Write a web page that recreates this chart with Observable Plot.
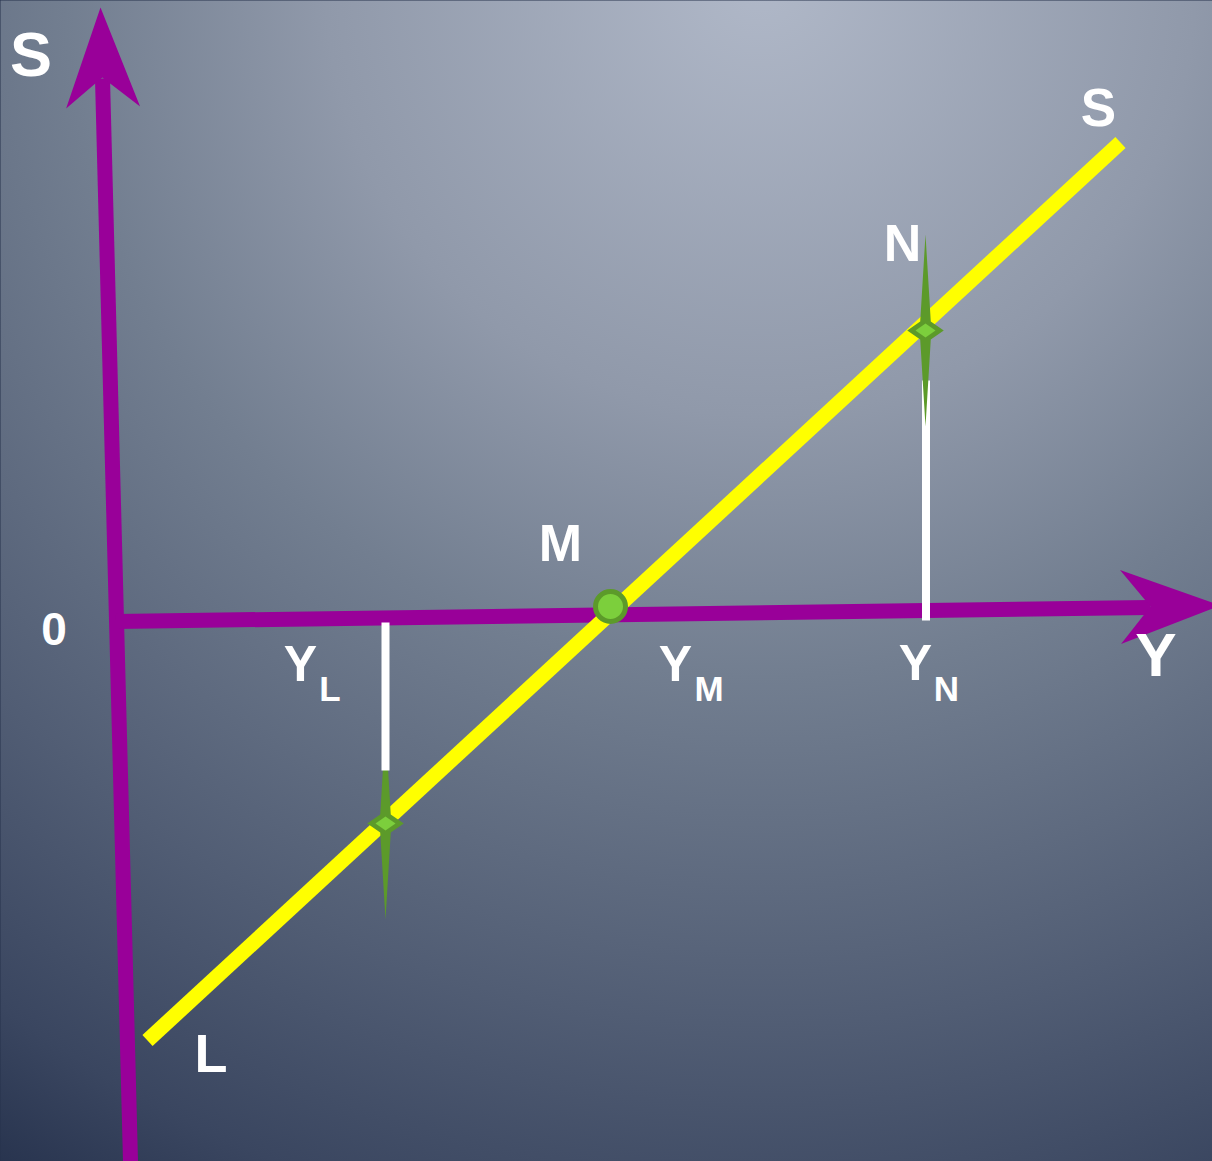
<!DOCTYPE html>
<html>
<head>
<meta charset="utf-8">
<script src="https://cdn.jsdelivr.net/npm/d3@7"></script>
<script src="https://cdn.jsdelivr.net/npm/@observablehq/plot@0.6"></script>
<style>
  html, body { margin: 0; padding: 0; background: #26324c; }
  #chart svg { display: block; }
</style>
</head>
<body>
<div id="chart"></div>
<script>
// ---------- DATA (Y = income on x, S = saving on y; origin at 0,0) ----------
const sAxis = [{x: 0.1, y: -6.7625}, {x: -0.25, y: 6.775}];
const yAxis = [{x: -0.0875, y: -0.0125}, {x: 12.85, y: 0.1625}];
const arrowTips = [
  {axis: "S", x: -0.275, y: 7.6625, angle: -1.5},
  {axis: "Y", x: 13.725, y: 0.1875, angle: 89.2}
];
const savingLine = [{x: 0.3125, y: -5.25}, {x: 12.475, y: 5.975}];
const equilibrium = [{name: "M", x: 6.1, y: 0.175}];
const sparklePoints = [
  {name: "N", x: 10.0375, y: 3.625},
  {name: "L", x: 3.2875, y: -2.5375}
];
const dropN = [{x: 10.04375, y: 3.0}, {x: 10.04375, y: 0.0}];
const dropL = [{x: 3.2875, y: -0.025}, {x: 3.2875, y: -1.875}];
const labels = [
  {text: "S", role: "axisS", x: -1.14375, y: 6.8125},
  {text: "Y", role: "axisY", x: 12.91875, y: -0.6875},
  {text: "0", role: "origin", x: -0.85625, y: -0.3},
  {text: "S", role: "curveS", x: 12.2, y: 6.1875},
  {text: "L", role: "curveL", x: 1.10625, y: -5.6375},
  {text: "N", role: "point", x: 9.75, y: 4.5},
  {text: "M", role: "point", x: 5.475, y: 0.75},
  {text: "Y", role: "income", x: 2.225, y: -0.75},
  {text: "Y", role: "income", x: 6.9125, y: -0.75},
  {text: "Y", role: "income", x: 9.9125, y: -0.7375},
  {text: "L", role: "sub", x: 2.59375, y: -1.0},
  {text: "M", role: "sub", x: 7.33125, y: -1.0},
  {text: "N", role: "sub", x: 10.3, y: -1.0}
];

// ---------- STYLE ----------
const W = 1212, H = 1161;
const X_DOMAIN = [-1.525, 13.625];
const Y_DOMAIN = [-6.7625, 7.75];
const PURPLE = "#990099", YELLOW = "#ffff00";
const GREEN_DARK = "#5c9a2a", GREEN_LIGHT = "#7ccf3c";
const FONT = {axisS: 63, axisY: 62, origin: 46, curveS: 53, curveL: 54, point: 52, income: 50, sub: 35};

const arrowSymbol = {
  draw(ctx, size) {
    const s = Math.sqrt(size / Math.PI);
    ctx.moveTo(0, 0);
    ctx.lineTo(0.37 * s, s);
    ctx.lineTo(0, 0.7 * s);
    ctx.lineTo(-0.37 * s, s);
    ctx.closePath();
  }
};
const sparkleSymbol = {
  draw(ctx, size) {
    const s = Math.sqrt(size / Math.PI);
    ctx.moveTo(0, -s);
    ctx.lineTo(0.055 * s, -0.095 * s);
    ctx.lineTo(0.19 * s, 0);
    ctx.lineTo(0.055 * s, 0.095 * s);
    ctx.lineTo(0, s);
    ctx.lineTo(-0.055 * s, 0.095 * s);
    ctx.lineTo(-0.19 * s, 0);
    ctx.lineTo(-0.055 * s, -0.095 * s);
    ctx.closePath();
  }
};
const innerDiamond = {
  draw(ctx, size) {
    const s = Math.sqrt(size / Math.PI);
    ctx.moveTo(0, -0.7 * s);
    ctx.lineTo(s, 0);
    ctx.lineTo(0, 0.7 * s);
    ctx.lineTo(-s, 0);
    ctx.closePath();
  }
};

const gradientDefs = () => {
  const defs = d3.create("svg:defs");
  const g = defs.append("radialGradient")
    .attr("id", "bg").attr("gradientUnits", "userSpaceOnUse")
    .attr("cx", 760).attr("cy", -20).attr("r", 1450);
  [[0, "#b0b8c8"], [0.3, "#9099aa"], [0.48, "#727e90"], [0.72, "#515d74"], [0.88, "#3a4660"], [1, "#222e49"]]
    .forEach(([o, c]) => g.append("stop").attr("offset", o).attr("stop-color", c));
  return defs.node();
};

const chart = Plot.plot({
  width: W, height: H,
  margin: 0,
  x: {domain: X_DOMAIN, axis: null},
  y: {domain: Y_DOMAIN, axis: null},
  style: {fontFamily: "'Liberation Sans', Arial, sans-serif", background: "transparent"},
  marks: [
    gradientDefs,
    Plot.frame({fill: "url(#bg)", stroke: null}),
    Plot.line(sAxis, {x: "x", y: "y", stroke: PURPLE, strokeWidth: 15, strokeLinecap: "butt"}),
    Plot.line(yAxis, {x: "x", y: "y", stroke: PURPLE, strokeWidth: 15, strokeLinecap: "butt"}),
    Plot.dot(arrowTips, {x: "x", y: "y", r: 100, symbol: arrowSymbol, rotate: "angle", fill: PURPLE, stroke: "none"}),
    Plot.line(dropN, {x: "x", y: "y", stroke: "white", strokeWidth: 8, strokeLinecap: "butt"}),
    Plot.line(savingLine, {x: "x", y: "y", stroke: YELLOW, strokeWidth: 15, strokeLinecap: "butt"}),
    Plot.dot(sparklePoints, {x: "x", y: "y", r: 96, symbol: sparkleSymbol, fill: GREEN_DARK, stroke: "none"}),
    Plot.dot(sparklePoints, {x: "x", y: "y", r: 10, symbol: innerDiamond, fill: GREEN_LIGHT, stroke: "none"}),
    Plot.line(dropL, {x: "x", y: "y", stroke: "white", strokeWidth: 8, strokeLinecap: "butt"}),
    Plot.dot(equilibrium, {x: "x", y: "y", r: 15, fill: GREEN_LIGHT, stroke: GREEN_DARK, strokeWidth: 5}),
    Plot.text(labels, {x: "x", y: "y", text: "text", fontSize: d => FONT[d.role], fontWeight: "bold",
      fill: "white", textAnchor: "middle", lineAnchor: "bottom"})
  ]
});
document.getElementById("chart").appendChild(chart);
</script>
</body>
</html>
